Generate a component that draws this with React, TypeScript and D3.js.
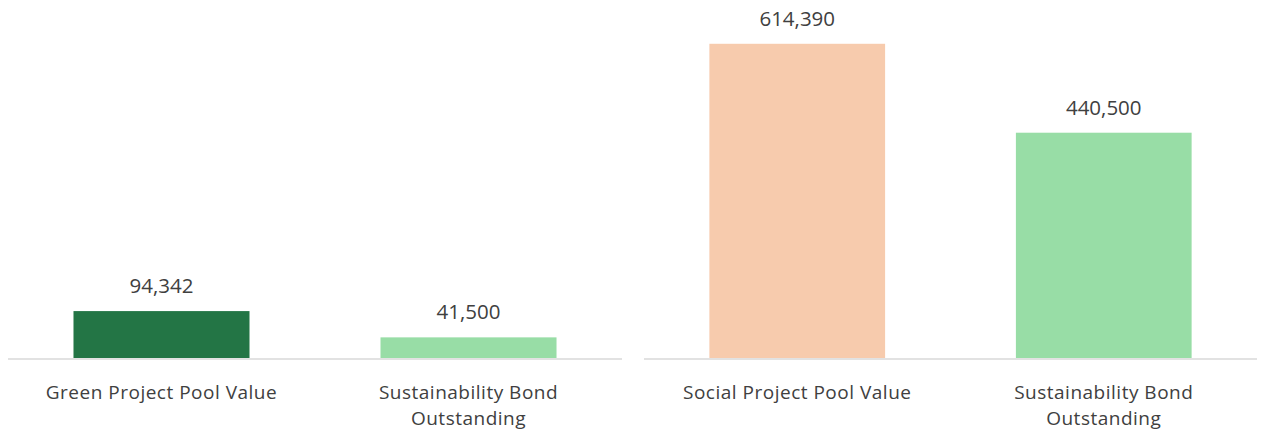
import React from "react";
import * as d3 from "d3";

const leftCategories = ["Green Project Pool Value", "Sustainability Bond\nOutstanding"];
const leftValues = [94342, 41500];
const leftColors = ["#237545", "#98DDA6"];

const rightCategories = ["Social Project Pool Value", "Sustainability Bond\nOutstanding"];
const rightValues = [614390, 440500];
const rightColors = ["#F7CBAD", "#98DDA6"];

const W = 1263;
const H = 433;
const FONT = "'Open Sans', sans-serif";
const TEXT = "#404040";

type PanelProps = {
  categories: string[];
  values: number[];
  colors: string[];
  x0: number;
  x1: number;
  yMax: number;
};

function Panel({ categories, values, colors, x0, x1, yMax }: PanelProps) {
  const baseY = 358;
  const x = d3.scaleBand<string>().domain(categories).range([x0, x1]).paddingInner(0.4267).paddingOuter(0.2133);
  const y = d3.scaleLinear().domain([0, yMax]).range([baseY, 0]);
  const fmt = d3.format(",");
  return (
    <g>
      {categories.map((c, i) => {
        const bx = x(c)!;
        const bw = x.bandwidth();
        const top = y(values[i]);
        const lines = c.split("\n");
        return (
          <g key={c}>
            <rect x={bx} y={top} width={bw} height={baseY - top} fill={colors[i]} />
            <text
              x={bx + bw / 2}
              y={top - 26}
              textAnchor="middle"
              dominantBaseline="central"
              fontFamily={FONT}
              fontSize={20.5}
              fill={TEXT}
            >
              {fmt(values[i])}
            </text>
            {lines.map((l, j) => (
              <text
                key={j}
                x={bx + bw / 2}
                y={392 + j * 26}
                textAnchor="middle"
                dominantBaseline="central"
                fontFamily={FONT}
                fontSize={19}
                letterSpacing={0.5}
                fill={TEXT}
              >
                {l}
              </text>
            ))}
          </g>
        );
      })}
      <line x1={x0} x2={x1} y1={baseY + 1} y2={baseY + 1} stroke="#D9D9D9" strokeWidth={1.5} />
    </g>
  );
}

export default function App() {
  return (
    <svg width={W} height={H} style={{ position: "absolute", left: 0, top: 0, background: "#fff" }}>
      <Panel categories={leftCategories} values={leftValues} colors={leftColors} x0={8} x1={622} yMax={720000} />
      <Panel categories={rightCategories} values={rightValues} colors={rightColors} x0={644} x1={1257} yMax={700000} />
    </svg>
  );
}
